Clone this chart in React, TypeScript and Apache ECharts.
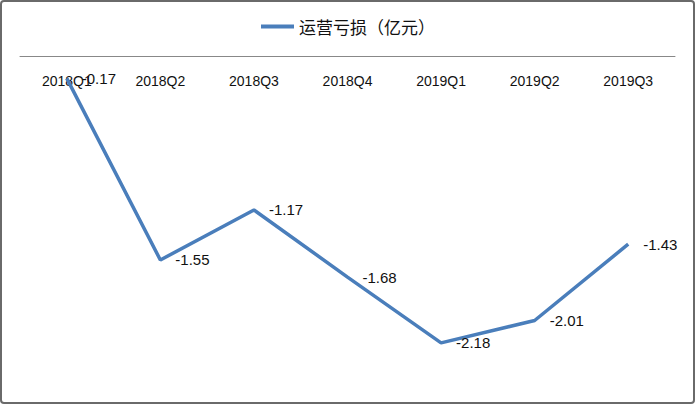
import React, { useEffect, useRef } from "react";
import * as echarts from "echarts";

const categories = ["2018Q1", "2018Q2", "2018Q3", "2018Q4", "2019Q1", "2019Q2", "2019Q3"];
const lossValues = [-0.17, -1.55, -1.17, -1.68, -2.18, -2.01, -1.43];
const seriesName = "运营亏损（亿元）";

export default function App() {
  const ref = useRef<HTMLDivElement>(null);
  useEffect(() => {
    document.body.style.margin = "0";
    const chart = echarts.init(ref.current!, null, { renderer: "svg" });
    chart.setOption({
      animation: false,
      backgroundColor: "#ffffff",
      graphic: [
        {
          type: "rect",
          shape: { x: 1, y: 1, width: 693, height: 402, r: 3 },
          style: { fill: "none", stroke: "#6a6a6a", lineWidth: 2 },
          silent: true,
        },
      ],
      legend: {
        top: 13,
        left: "center",
        icon: "rect",
        itemWidth: 33,
        itemHeight: 4,
        itemGap: 10,
        textStyle: { fontFamily: "Noto Sans CJK SC", fontSize: 17, color: "#111" },
        data: [seriesName],
      },
      grid: { left: 20, right: 21, top: 56, bottom: 20 },
      xAxis: {
        type: "category",
        position: "top",
        data: categories,
        boundaryGap: true,
        axisLine: { show: true, lineStyle: { color: "#888888", width: 1 } },
        axisTick: { show: false },
        axisLabel: {
          inside: true,
          margin: 18,
          color: "#111",
          fontSize: 14,
          fontFamily: "Liberation Sans",
        },
        splitLine: { show: false },
      },
      yAxis: {
        type: "value",
        min: -2.5,
        max: 0,
        show: false,
        splitLine: { show: false },
      },
      series: [
        {
          name: seriesName,
          type: "line",
          data: lossValues,
          showSymbol: true,
          symbol: "circle",
          symbolSize: 0,
          lineStyle: { color: "#4a7ebb", width: 3.5 },
          itemStyle: { color: "#4a7ebb" },
          label: {
            show: true,
            position: "right",
            distance: 15,
            color: "#111",
            fontSize: 15,
            fontFamily: "Liberation Sans",
          },
        },
      ],
    });
    return () => chart.dispose();
  }, []);
  return (
    <div
      ref={ref}
      style={{ position: "absolute", left: 0, top: 0, width: 696, height: 405 }}
    />
  );
}
